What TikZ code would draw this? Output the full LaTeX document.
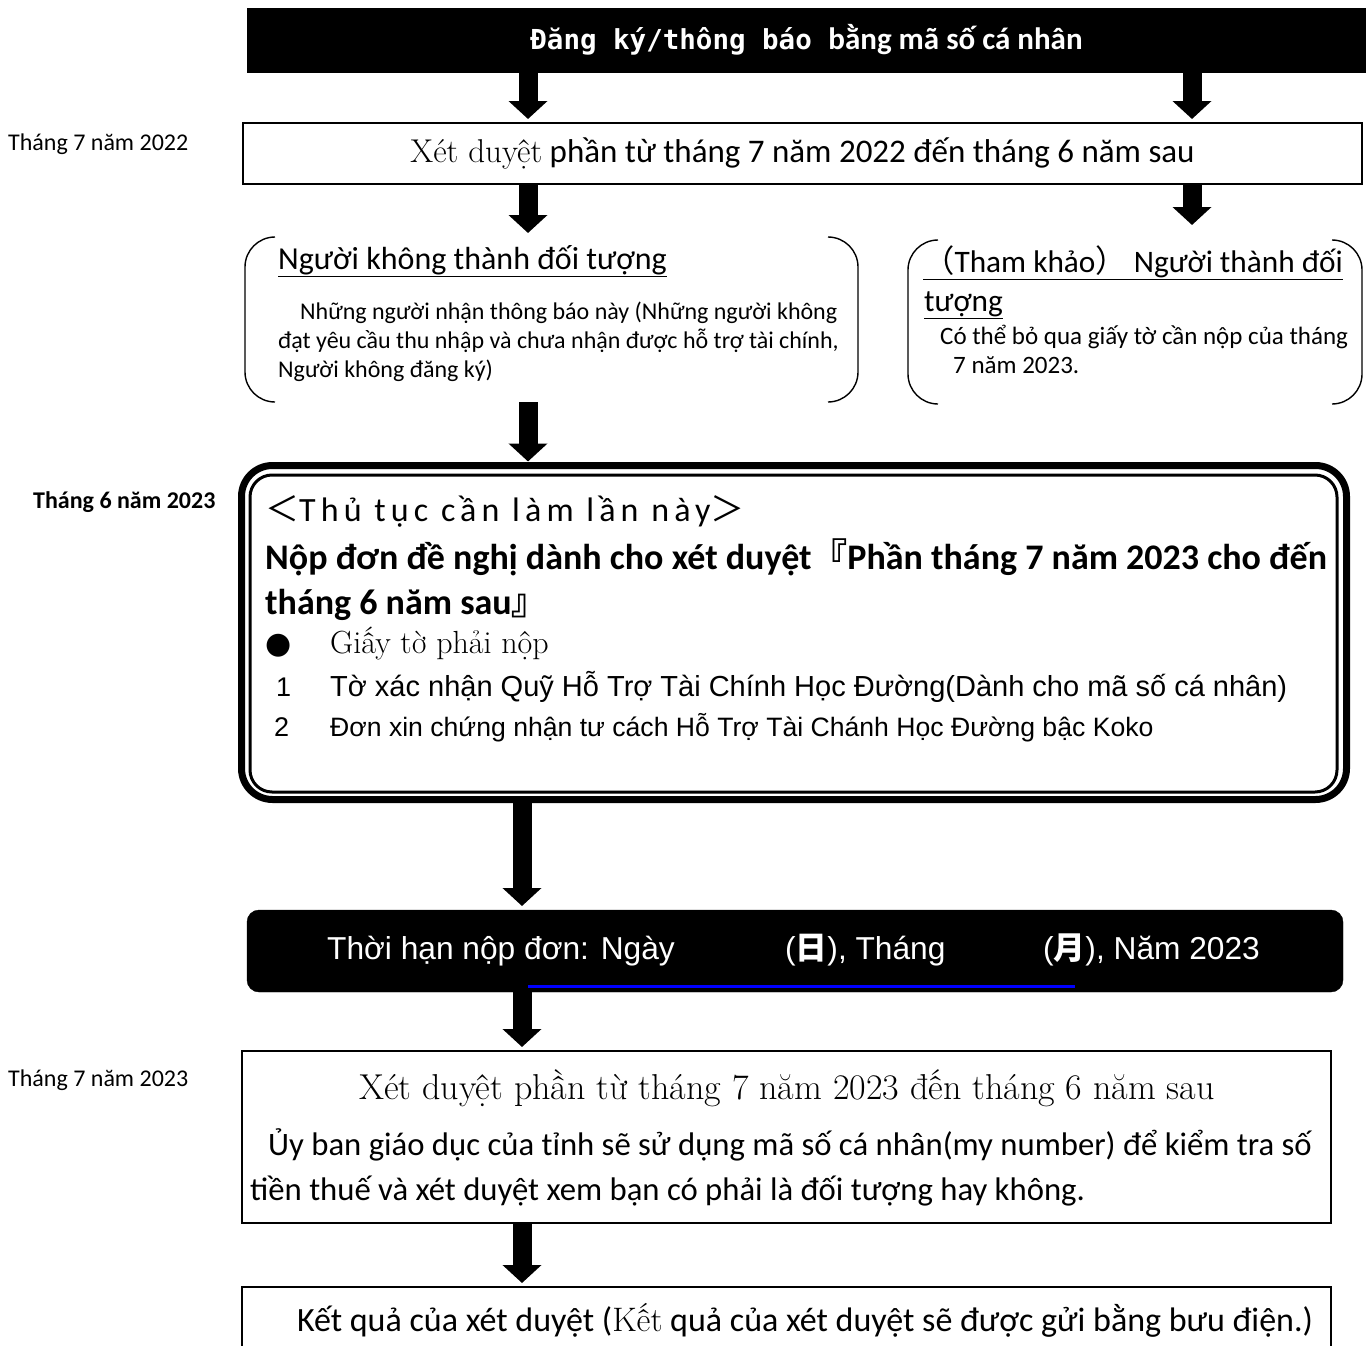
\documentclass[tikz,border=0pt]{standalone}
\usepackage{fontspec}
\setmainfont{Carlito}
\newfontfamily\lmvn{Latin Modern Roman}
\newfontfamily\arvn{Liberation Sans}
\newfontfamily\monovn{DejaVu Sans Mono}
\newfontfamily\gothvn[LetterSpace=15]{Carlito}
\newfontfamily\cjk{Noto Sans CJK JP}
\newfontfamily\dejavu{DejaVu Sans}
\usetikzlibrary{arrows.meta,positioning}

\newcommand{\fsz}[1]{\fontsize{#1}{#1}\selectfont}

\tikzset{
	plainbox/.style={draw, line width=1.3pt, outer sep=0pt, inner sep=0pt, anchor=north west},
	blackbar/.style={fill=black, draw=black, outer sep=0pt, inner sep=0pt, anchor=north west},
	hidden/.style={outer sep=0pt, inner sep=0pt, anchor=north west},
	brk/.style={line width=1.4pt, rounded corners=30pt},
	downarr/.style={line width=19pt, -{Triangle[width=38pt,length=18pt]}, shorten >=4pt},
	txt/.style={inner sep=0pt, anchor=base west},
	side/.style={txt, font=\fsz{24}},
}

\begin{document}
\begin{tikzpicture}[x=1pt, y=-1pt]
					\useasboundingbox (0,0) rectangle (1366,1346);
					\clip (0,0) rectangle (1366,1346);
					
					\coordinate (cL) at (528,0);
					\coordinate (cR) at (1192,0);
					\coordinate (cM) at (522,0);
					
					\node[blackbar, minimum width=1119pt, minimum height=64pt, text=white, font=\fsz{31}\bfseries] (reg) at (247,8)
						{{\fsz{27.5}\monovn Đăng ký/thông báo }bằng mã số cá nhân};
					
					\node[side] (m2207) at (8,150) {Tháng 7 năm 2022};
					\node[plainbox, minimum width=1119pt, minimum height=61pt, font=\fsz{33}] (rev22) at (243,123)
						{{\lmvn Xét duyệt} phần từ tháng 7 năm 2022 đến tháng 6 năm sau};
					
					% không thành đối tượng
					\node[hidden, minimum width=613pt, minimum height=165pt] (nonsub) at (245,237) {};
					\draw[brk] ([xshift=30pt]nonsub.north west) -- (nonsub.north west) -- (nonsub.south west) -- ([xshift=30pt]nonsub.south west);
					\draw[brk] ([xshift=-30pt]nonsub.north east) -- (nonsub.north east) -- (nonsub.south east) -- ([xshift=-30pt]nonsub.south east);
					\node[txt, font=\fsz{32}] (nstitle) at (278,269) {\underline{Người không thành đối tượng}};
					\node[txt, font=\fsz{24}] (ns1) at (300,319) {Những người nhận thông báo này (Những người không};
					\node[txt, font=\fsz{24}] (ns2) at (278,348) {đạt yêu cầu thu nhập và chưa nhận được hỗ trợ tài chính,};
					\node[txt, font=\fsz{24}] (ns3) at (278,377) {Người không đăng ký)};
					
					% thành đối tượng
					\node[hidden, minimum width=454pt, minimum height=164pt] (refsub) at (908,240) {};
					\draw[brk] ([xshift=30pt]refsub.north west) -- (refsub.north west) -- (refsub.south west) -- ([xshift=30pt]refsub.south west);
					\draw[brk] ([xshift=-30pt]refsub.north east) -- (refsub.north east) -- (refsub.south east) -- ([xshift=-30pt]refsub.south east);
					\node[txt, font=\fsz{31.3}] (rstitle) at (923,272) {\underline{{\cjk （}Tham khảo{\cjk ）} Người thành đối}};
					\node[txt, font=\fsz{31.3}] (rstitle2) at (924,311) {\underline{tượng}};
					\node[txt, font=\fsz{25}] (rs1) at (940,344) {Có thể bỏ qua giấy tờ cần nộp của tháng};
					\node[txt, font=\fsz{25}] (rs2) at (953,373) {7 năm 2023.};
					
					% thủ tục
					\node[side, font=\fsz{24}\bfseries] (m2306) at (33,508) {Tháng 6 năm 2023};
					\node[draw, line width=7pt, rounded corners=31pt, hidden, minimum width=1105pt, minimum height=334pt] (proc) at (241.5,465.5) {};
					\draw[line width=3pt, rounded corners=22pt] ([shift={(8.5,9.5)}]proc.north west) rectangle ([shift={(-9.5,-7.5)}]proc.south east);
					\node[txt, font=\fsz{34}] (p1) at (265,521) {{\cjk ＜}{\gothvn Thủ tục cần làm lần này}{\cjk ＞}};
					\node[txt, font=\fsz{36}\bfseries] (p2) at (265,569) {Nộp đơn đề nghị dành cho xét duyệt{\cjk 『}Phần tháng 7 năm 2023 cho đến};
					\node[txt, font=\fsz{36}\bfseries] (p3) at (265,614) {tháng 6 năm sau{\cjk 』}};
					\node[txt, font=\fsz{30}\dejavu] (dot) at (265,653) {●};
					\node[txt, font=\fsz{32}\lmvn] (p4) at (330,653) {Giấy tờ phải nộp};
					\node[txt, font=\fsz{27}\arvn] (n1) at (276,696) {1};
					\node[txt, font=\fsz{29}\arvn] (p5) at (330,696) {Tờ xác nhận Quỹ Hỗ Trợ Tài Chính Học Đường(Dành cho mã số cá nhân)};
					\node[txt, font=\fsz{27}\arvn] (n2) at (274,736) {2};
					\node[txt, font=\fsz{26.6}\arvn] (p6) at (330,736) {Đơn xin chứng nhận tư cách Hỗ Trợ Tài Chánh Học Đường bậc Koko};
					
					% thời hạn
					\node[blackbar, rounded corners=12pt, minimum width=1096pt, minimum height=82pt] (deadline) at (247,910) {};
					\node[txt, font=\fsz{31.7}\arvn, text=white] (d1) at (327,959) {Thời hạn nộp đơn: Ngày};
					\node[txt, font=\fsz{31.7}\arvn, text=white] (d2) at (785,959) {({\cjk\bfseries 日}), Tháng};
					\node[txt, font=\fsz{31.7}\arvn, text=white] (d3) at (1043,959) {({\cjk\bfseries 月}), Năm 2023};
					\draw[blue, line width=3pt] (528,986) -- (1075,986);
					
					% xét duyệt 2023
					\node[side] (m2307) at (8,1086) {Tháng 7 năm 2023};
					\node[plainbox, minimum width=1089pt, minimum height=172pt] (rev23) at (242,1051) {};
					\node[inner sep=0pt, anchor=base, font=\fsz{36}\lmvn] (r1) at (787,1099) {Xét duyệt phần từ tháng 7 năm 2023 đến tháng 6 năm sau};
					\node[txt, font=\fsz{32.7}] (r2) at (268,1155) {Ủy ban giáo dục của tỉnh sẽ sử dụng mã số cá nhân(my number) để kiểm tra số};
					\node[txt, font=\fsz{32.7}] (r3) at (250,1200) {tiền thuế và xét duyệt xem bạn có phải là đối tượng hay không.};
					
					\node[plainbox, minimum width=1089pt, minimum height=90pt] (result) at (242,1287) {};
					\node[inner sep=0pt, anchor=base, font=\fsz{34}] (k1) at (805,1331) {Kết quả của xét duyệt ({\lmvn Kết} quả của xét duyệt sẽ được gửi bằng bưu điện.)};
					
					\draw[downarr] (cL |- reg.south) -- (cL |- rev22.north);
					\draw[downarr] (cR |- reg.south) -- (cR |- rev22.north);
					\draw[downarr] (cL |- rev22.south) -- (cL |- nonsub.north);
					\draw[downarr, shorten >=15pt] (cR |- rev22.south) -- (cR |- refsub.north);
					\draw[downarr] (cL |- nonsub.south) -- (cL |- proc.north);
					\draw[downarr] (cM |- proc.south) -- (cM |- deadline.north);
					\draw[downarr] (cM |- deadline.south) -- (cM |- rev23.north);
					\draw[downarr] (cM |- rev23.south) -- (cM |- result.north);
					
				\end{tikzpicture}
\end{document}
